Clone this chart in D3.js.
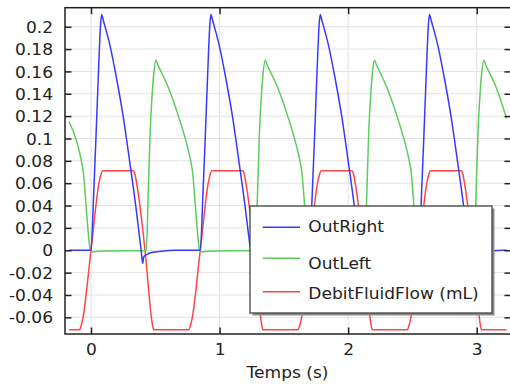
<!DOCTYPE html>
<html>
<head>
<meta charset="utf-8">
<script src="https://cdn.jsdelivr.net/npm/d3@7"></script>
<style>
  html, body { margin: 0; padding: 0; background: #fff; }
  svg text { font-family: "DejaVu Sans", sans-serif; }
</style>
</head>
<body>
<div id="chart"></div>
<script>
// values, [time (s), value]
var outRight = [
    [-0.17, 0], [0, 0],
    [0.02, 0.048], [0.04, 0.105], [0.06, 0.165], [0.075, 0.203], [0.083, 0.211], [0.095, 0.206],
    [0.15, 0.182], [0.2, 0.153], [0.25, 0.12], [0.3, 0.08], [0.35, 0.038], [0.39, 0],
    [0.402, -0.0117], [0.41, -0.006], [0.43, -0.004], [0.47, -0.002], [0.55, -0.0008], [0.65, 0],
    [0.85, 0],
    [0.87, 0.048], [0.89, 0.105], [0.91, 0.165], [0.925, 0.203], [0.933, 0.211], [0.945, 0.206],
    [1.0, 0.182], [1.05, 0.153], [1.1, 0.12], [1.15, 0.08], [1.2, 0.038], [1.24, 0],
    [1.252, -0.0117], [1.26, -0.006], [1.28, -0.004], [1.32, -0.002], [1.4, -0.0008], [1.5, 0],
    [1.7, 0],
    [1.72, 0.048], [1.74, 0.105], [1.76, 0.165], [1.775, 0.203], [1.783, 0.211], [1.795, 0.206],
    [1.85, 0.182], [1.9, 0.153], [1.95, 0.12], [2.0, 0.08], [2.05, 0.038], [2.09, 0],
    [2.102, -0.0117], [2.11, -0.006], [2.13, -0.004], [2.17, -0.002], [2.25, -0.0008], [2.35, 0],
    [2.55, 0],
    [2.57, 0.048], [2.59, 0.105], [2.61, 0.165], [2.625, 0.203], [2.633, 0.211], [2.645, 0.206],
    [2.7, 0.182], [2.75, 0.153], [2.8, 0.12], [2.85, 0.08], [2.9, 0.038], [2.94, 0],
    [2.952, -0.0117], [2.96, -0.006], [2.98, -0.004], [3.02, -0.002], [3.1, -0.0008], [3.2, 0],
    [3.232, 0]
];

var outLeft = [
    [-0.17, 0.115], [-0.11, 0.097], [-0.075, 0.08], [-0.06, 0.07], [-0.035, 0.035], [-0.015, 0.008], [-0.005, 0],
    [0, -0.0003], [0.015, -0.0015], [0.04, -0.001], [0.1, -0.0006], [0.3, -0.0004], [0.43, -0.0004],
    [0.445, 0.05], [0.46, 0.105], [0.475, 0.138], [0.49, 0.16], [0.505, 0.17], [0.52, 0.166],
    [0.6, 0.146], [0.68, 0.12], [0.74, 0.097], [0.775, 0.08], [0.79, 0.07], [0.815, 0.035], [0.835, 0.008], [0.845, 0],
    [0.85, -0.0003], [0.865, -0.0015], [0.89, -0.001], [0.95, -0.0006], [1.15, -0.0004], [1.28, -0.0004],
    [1.295, 0.05], [1.31, 0.105], [1.325, 0.138], [1.34, 0.16], [1.355, 0.17], [1.37, 0.166],
    [1.45, 0.146], [1.53, 0.12], [1.59, 0.097], [1.625, 0.08], [1.64, 0.07], [1.665, 0.035], [1.685, 0.008], [1.695, 0],
    [1.7, -0.0003], [1.715, -0.0015], [1.74, -0.001], [1.8, -0.0006], [2.0, -0.0004], [2.13, -0.0004],
    [2.145, 0.05], [2.16, 0.105], [2.175, 0.138], [2.19, 0.16], [2.205, 0.17], [2.22, 0.166],
    [2.3, 0.146], [2.38, 0.12], [2.44, 0.097], [2.475, 0.08], [2.49, 0.07], [2.515, 0.035], [2.535, 0.008], [2.545, 0],
    [2.55, -0.0003], [2.565, -0.0015], [2.59, -0.001], [2.65, -0.0006], [2.85, -0.0004], [2.98, -0.0004],
    [2.995, 0.05], [3.01, 0.105], [3.025, 0.138], [3.04, 0.16], [3.055, 0.17], [3.07, 0.166],
    [3.15, 0.146], [3.232, 0.118]
];

var debitFluidFlow = [
    [-0.17, -0.0712],
    [-0.09, -0.0712], [-0.078, -0.068], [-0.065, -0.062], [0, 0], [0.065, 0.062], [0.078, 0.068], [0.09, 0.0712],
    [0.33, 0.0712], [0.342, 0.068], [0.355, 0.06], [0.42, 0], [0.47, -0.06], [0.48, -0.068], [0.49, -0.0712],
    [0.76, -0.0712], [0.772, -0.068], [0.785, -0.062], [0.85, 0], [0.915, 0.062], [0.928, 0.068], [0.94, 0.0712],
    [1.18, 0.0712], [1.192, 0.068], [1.205, 0.06], [1.27, 0], [1.32, -0.06], [1.33, -0.068], [1.34, -0.0712],
    [1.61, -0.0712], [1.622, -0.068], [1.635, -0.062], [1.7, 0], [1.765, 0.062], [1.778, 0.068], [1.79, 0.0712],
    [2.03, 0.0712], [2.042, 0.068], [2.055, 0.06], [2.12, 0], [2.17, -0.06], [2.18, -0.068], [2.19, -0.0712],
    [2.46, -0.0712], [2.472, -0.068], [2.485, -0.062], [2.55, 0], [2.615, 0.062], [2.628, 0.068], [2.64, 0.0712],
    [2.88, 0.0712], [2.892, 0.068], [2.905, 0.06], [2.97, 0], [3.02, -0.06], [3.03, -0.068], [3.04, -0.0712],
    [3.232, -0.0712]
];

var seriesNames = ['OutRight', 'OutLeft', 'DebitFluidFlow (mL)'];
var seriesColors = ['#3838ff', '#5ccc5c', '#ff4646'];
var xTicks = [0, 1, 2, 3];
var yTicks = [-0.06, -0.04, -0.02, 0, 0.02, 0.04, 0.06, 0.08, 0.1, 0.12, 0.14, 0.16, 0.18, 0.2];
var xTitle = 'Temps (s)';

(function() {

    var width = 510, height = 387;
    var left = 65, right = 511, top = 7.7, bottom = 334;
    var stretch = 1.1;   // text in the picture is a bit wider than DejaVu
    var fontSize = 15.5;

    var svg = d3.select('#chart')
      .append('svg')
        .attr('width', width)
        .attr('height', height);

    var x = d3.scaleLinear().domain([-0.2022, 3.2667]).range([left, right]);
    var y = d3.scaleLinear().domain([-0.0749, 0.217]).range([bottom, top]);

    // grid
    var grid = svg.append('g').attr('stroke', '#e3e3e3').attr('stroke-width', 1);
    grid.selectAll('.hgrid').data(yTicks).enter().append('line')
        .attr('x1', left).attr('x2', right)
        .attr('y1', function(d) { return y(d); })
        .attr('y2', function(d) { return y(d); });
    grid.selectAll('.vgrid').data(xTicks).enter().append('line')
        .attr('y1', top).attr('y2', bottom)
        .attr('x1', function(d) { return x(d); })
        .attr('x2', function(d) { return x(d); });

    // lines
    svg.append('clipPath').attr('id', 'plot-clip')
      .append('rect')
        .attr('x', left).attr('y', top)
        .attr('width', right - left).attr('height', bottom - top);

    var line = d3.line()
        .x(function(d) { return x(d[0]); })
        .y(function(d) { return y(d[1]); })
        .curve(d3.curveMonotoneX);

    var series = [outRight, outLeft, debitFluidFlow];
    var plot = svg.append('g').attr('clip-path', 'url(#plot-clip)');
    // draw in reverse so the blue sits on top like the original
    [2, 1, 0].forEach(function(i) {
        plot.append('path')
            .datum(series[i])
            .attr('fill', 'none')
            .attr('stroke', seriesColors[i])
            .attr('stroke-width', 1.5)
            .attr('stroke-linejoin', 'round')
            .attr('d', line);
    });

    function styleAxis(g) {
        g.attr('font-family', 'DejaVu Sans').attr('font-size', fontSize).attr('color', '#222');
        g.select('.domain').remove();
        g.selectAll('.tick line').attr('stroke-width', 1.5);
        g.selectAll('.tick text').each(function() {
            var t = d3.select(this);
            var tx = +t.attr('x') || 0;
            t.attr('x', tx / stretch).attr('transform', 'scale(' + stretch + ',1)');
        });
    }

    var fmt = function(d) { return String(+d.toFixed(2)); };

    svg.append('g')
        .attr('transform', 'translate(' + left + ',0)')
        .call(d3.axisLeft(y).tickValues(yTicks).tickSizeInner(-6.5).tickSizeOuter(0).tickPadding(12).tickFormat(fmt))
        .call(styleAxis)
        .selectAll('.tick text').attr('dy', '0.36em');

    svg.append('g')
        .attr('transform', 'translate(' + right + ',0)')
        .call(d3.axisRight(y).tickValues(yTicks).tickSizeInner(-6.5).tickSizeOuter(0).tickFormat(''))
        .call(styleAxis);

    svg.append('g')
        .attr('transform', 'translate(0,' + bottom + ')')
        .call(d3.axisBottom(x).tickValues(xTicks).tickSizeInner(-6.5).tickSizeOuter(0).tickPadding(10.5).tickFormat(d3.format('d')))
        .call(styleAxis);

    svg.append('g')
        .attr('transform', 'translate(0,' + top + ')')
        .call(d3.axisTop(x).tickValues(xTicks).tickSizeInner(-6.5).tickSizeOuter(0).tickFormat(''))
        .call(styleAxis);

    // frame
    svg.append('rect')
        .attr('x', left).attr('y', top)
        .attr('width', right - left).attr('height', bottom - top)
        .attr('fill', 'none')
        .attr('stroke', '#222')
        .attr('stroke-width', 1.5);

    // axis title
    svg.append('text')
        .attr('transform', 'translate(' + ((left + 510) / 2) + ',378) scale(' + stretch + ',1)')
        .attr('text-anchor', 'middle')
        .attr('font-size', fontSize)
        .attr('fill', '#222')
        .text(xTitle);

    // legend
    var lg = {x: 250, y: 206, w: 242, h: 107};
    var legend = svg.append('g');
    legend.append('rect')
        .attr('x', lg.x + 2.5).attr('y', lg.y + 2.5)
        .attr('width', lg.w).attr('height', lg.h)
        .attr('fill', '#8c8c8c');
    legend.append('rect')
        .attr('x', lg.x).attr('y', lg.y)
        .attr('width', lg.w).attr('height', lg.h)
        .attr('fill', '#fff')
        .attr('stroke', '#444')
        .attr('stroke-width', 1.3);

    var rowLine = [227.3, 258.3, 291.7];
    var rowText = [231.5, 269, 299];
    seriesNames.forEach(function(name, i) {
        legend.append('line')
            .attr('x1', 262.7).attr('x2', 300)
            .attr('y1', rowLine[i]).attr('y2', rowLine[i])
            .attr('stroke', seriesColors[i])
            .attr('stroke-width', 1.5);
        legend.append('text')
            .attr('transform', 'translate(308.3,' + rowText[i] + ') scale(' + stretch + ',1)')
            .attr('font-size', fontSize)
            .attr('fill', '#222')
            .text(name);
    });

})();
</script>
</body>
</html>
